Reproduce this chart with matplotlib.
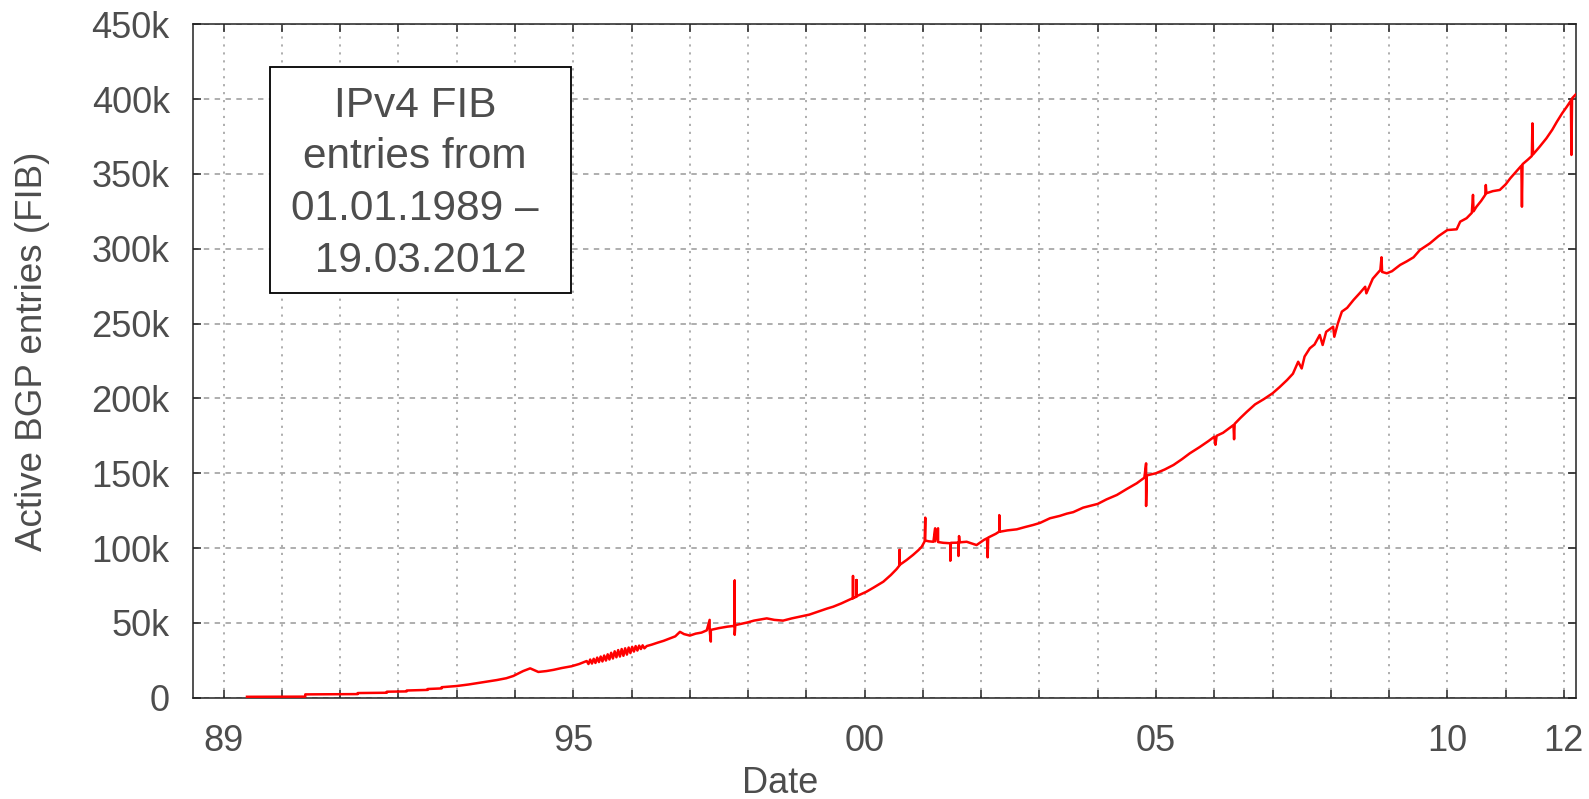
import matplotlib
matplotlib.use("Agg")
from matplotlib import pyplot as plt
from matplotlib.patches import Rectangle
from matplotlib.ticker import FixedLocator, FuncFormatter

plt.rcParams['font.family'] = ['Liberation Sans', 'DejaVu Sans']

# decimal year of each reading
dates = [
    1989.40, 1990.40, 1990.40, 1991.30, 1991.30, 1991.80, 1991.80, 1992.14, 1992.14,
    1992.50, 1992.50, 1992.74, 1992.74, 1993.00, 1993.20, 1993.40, 1993.69, 1993.85,
    1993.97, 1994.14, 1994.26, 1994.40, 1994.54, 1994.66, 1994.80, 1994.97, 1995.10,
    1995.23, 1995.26, 1995.29, 1995.32, 1995.35, 1995.38, 1995.41, 1995.44, 1995.47,
    1995.50, 1995.53, 1995.56, 1995.59, 1995.62, 1995.65, 1995.68, 1995.71, 1995.74,
    1995.77, 1995.80, 1995.83, 1995.86, 1995.89, 1995.92, 1995.95, 1995.98, 1996.01,
    1996.04, 1996.07, 1996.10, 1996.13, 1996.16, 1996.19, 1996.22, 1996.26, 1996.35,
    1996.45, 1996.55, 1996.65, 1996.75, 1996.83, 1996.90, 1997.00, 1997.10, 1997.20,
    1997.29, 1997.34, 1997.34, 1997.36, 1997.36, 1997.50, 1997.65, 1997.77, 1997.77,
    1997.77, 1997.78, 1997.90, 1997.98, 1998.10, 1998.32, 1998.45, 1998.60, 1998.75,
    1998.89, 1999.05, 1999.20, 1999.35, 1999.46, 1999.60, 1999.75, 1999.80, 1999.80,
    1999.80, 1999.86, 1999.86, 1999.86, 2000.03, 2000.15, 2000.32, 2000.45, 2000.55,
    2000.60, 2000.60, 2000.60, 2000.72, 2000.83, 2000.92, 2000.98, 2001.03, 2001.04,
    2001.04, 2001.10, 2001.18, 2001.21, 2001.21, 2001.26, 2001.26, 2001.35, 2001.47,
    2001.47, 2001.48, 2001.61, 2001.61, 2001.62, 2001.63, 2001.75, 2001.92, 2002.05,
    2002.10, 2002.11, 2002.12, 2002.25, 2002.31, 2002.31, 2002.32, 2002.45, 2002.61,
    2002.75, 2002.89, 2003.01, 2003.18, 2003.35, 2003.47, 2003.58, 2003.75, 2004.00,
    2004.15, 2004.33, 2004.50, 2004.67, 2004.80, 2004.83, 2004.83, 2004.84, 2005.00,
    2005.15, 2005.30, 2005.45, 2005.58, 2005.75, 2005.90, 2006.00, 2006.02, 2006.04,
    2006.15, 2006.33, 2006.34, 2006.35, 2006.45, 2006.56, 2006.70, 2006.85, 2007.00,
    2007.12, 2007.25, 2007.35, 2007.44, 2007.50, 2007.55, 2007.64, 2007.72, 2007.81,
    2007.86, 2007.92, 2008.04, 2008.06, 2008.12, 2008.19, 2008.28, 2008.39, 2008.50,
    2008.59, 2008.61, 2008.72, 2008.85, 2008.87, 2008.88, 2008.96, 2009.05, 2009.19,
    2009.30, 2009.42, 2009.53, 2009.70, 2009.85, 2010.00, 2010.16, 2010.22, 2010.33,
    2010.42, 2010.44, 2010.45, 2010.50, 2010.58, 2010.65, 2010.66, 2010.67, 2010.78,
    2010.90, 2011.00, 2011.08, 2011.18, 2011.27, 2011.28, 2011.29, 2011.38, 2011.45,
    2011.46, 2011.47, 2011.58, 2011.70, 2011.80, 2011.88, 2011.97, 2012.05, 2012.12,
    2012.13, 2012.14, 2012.20,
]

# active FIB entries, in thousands
fib_k = [
    0.6, 0.7, 2.2, 2.4, 3.1, 3.3, 4.0, 4.2, 4.8,
    5.2, 5.8, 6.2, 7.0, 7.8, 8.8, 10.0, 11.8, 13.0,
    14.5, 17.8, 19.6, 17.2, 17.8, 18.6, 19.8, 21.0, 22.5,
    24.5, 22.5, 25.5, 22.8, 26.0, 23.2, 26.8, 23.8, 27.5,
    24.2, 28.2, 24.8, 29.0, 25.5, 30.0, 26.2, 31.0, 27.0,
    31.8, 27.5, 32.5, 28.0, 33.0, 28.8, 33.5, 29.8, 34.0,
    30.8, 34.5, 31.5, 34.8, 32.5, 35.0, 33.0, 34.5, 35.5,
    36.8, 38.0, 39.5, 41.0, 44.0, 42.5, 41.5, 42.8, 43.5,
    45.0, 52.0, 45.2, 37.5, 45.3, 46.5, 47.5, 48.0, 78.2,
    42.0, 48.5, 49.5, 50.2, 51.5, 53.0, 52.0, 51.5, 53.0,
    54.2, 55.5, 57.5, 59.5, 60.8, 63.0, 65.7, 66.5, 81.3,
    66.5, 67.5, 78.6, 67.8, 70.8, 73.5, 77.5, 82.0, 86.0,
    88.5, 98.7, 88.7, 92.0, 95.4, 98.5, 100.9, 104.5, 120.3,
    105.0, 104.5, 104.2, 113.2, 104.5, 113.2, 104.0, 103.5, 103.2,
    91.5, 103.5, 103.6, 94.7, 108.0, 103.8, 104.2, 102.0, 105.5,
    106.5, 93.8, 107.0, 109.5, 111.0, 122.0, 110.9, 111.8, 112.5,
    114.0, 115.4, 116.8, 119.9, 121.5, 123.0, 124.0, 127.0, 129.5,
    132.5, 135.5, 139.5, 143.3, 147.0, 156.6, 128.1, 148.5, 150.0,
    152.5, 155.5, 159.5, 163.3, 167.5, 171.5, 174.4, 169.0, 175.0,
    177.0, 182.2, 172.7, 183.0, 187.0, 191.1, 196.0, 199.5, 203.4,
    207.5, 212.3, 216.5, 224.5, 220.0, 228.0, 233.5, 236.0, 242.4,
    235.7, 244.5, 247.9, 241.2, 250.0, 258.0, 260.5, 265.8, 270.5,
    274.6, 270.2, 280.0, 285.8, 294.3, 284.5, 283.6, 285.0, 289.2,
    291.5, 294.3, 299.2, 303.6, 308.5, 312.5, 313.0, 318.1, 320.4,
    324.0, 336.0, 325.0, 328.1, 332.0, 336.0, 342.6, 337.1, 338.5,
    339.3, 343.0, 347.1, 351.5, 355.5, 328.1, 356.5, 359.5, 362.0,
    383.8, 363.0, 368.0, 373.8, 379.5, 384.9, 390.5, 394.9, 399.0,
    362.7, 400.5, 403.0,
]

years = list(range(1989, 2013))
year_labels = {1989: '89', 1995: '95', 2000: '00', 2005: '05', 2010: '10', 2012: '12'}
y_ticks = list(range(0, 451, 50))

text_col = '#4d4d4d'

fig = plt.figure(figsize=(15.89, 7.99), dpi=100)
ax = fig.add_axes([0.1217, 0.1268, 0.8702, 0.8428])

ax.plot(dates, fib_k, color='#ff0000', lw=1.8, zorder=3)

ax.set_xlim(1988.48, 2012.21)
ax.set_ylim(0, 450)

ax.xaxis.set_major_locator(FixedLocator(years))
ax.xaxis.set_major_formatter(FuncFormatter(lambda v, p: year_labels.get(int(round(v)), '')))
ax.yaxis.set_major_locator(FixedLocator(y_ticks))
ax.yaxis.set_major_formatter(FuncFormatter(lambda v, p: '0' if v == 0 else '%dk' % v))

ax.tick_params(axis='both', direction='in', length=6, width=1.1, color='#222222',
               labelsize=26, labelcolor=text_col, top=True, right=True)
ax.tick_params(axis='x', pad=19)
ax.tick_params(axis='y', pad=17)

for s in ax.spines.values():
    s.set_linewidth(1.1)
    s.set_color('#222222')

ax.set_axisbelow(True)
ax.xaxis.grid(True, color='#a8a8a8', lw=1.3, linestyle=(0, (1.2, 3.2)))
ax.yaxis.grid(True, color='#a8a8a8', lw=1.3, linestyle=(0, (3, 3)))

ax.set_xlabel('Date', fontsize=26, color=text_col)
ax.xaxis.set_label_coords(0.424, -0.101)
ax.set_ylabel('Active BGP entries (FIB)', fontsize=26.5, color=text_col)
ax.yaxis.set_label_coords(-0.1036, 0.515)

# info box
ax.add_patch(Rectangle((0.0552, 0.6011), 0.2176, 0.3356, transform=ax.transAxes,
                       facecolor='white', edgecolor='black', lw=1.3, zorder=4))
ax.text(0.1603, 0.764, 'IPv4 FIB\nentries from\n01.01.1989 \u2013\n 19.03.2012',
        transform=ax.transAxes, ha='center', va='center', multialignment='center',
        fontsize=30.5, color=text_col, linespacing=1.38, zorder=5)

fig.savefig('out.png', dpi=100)
